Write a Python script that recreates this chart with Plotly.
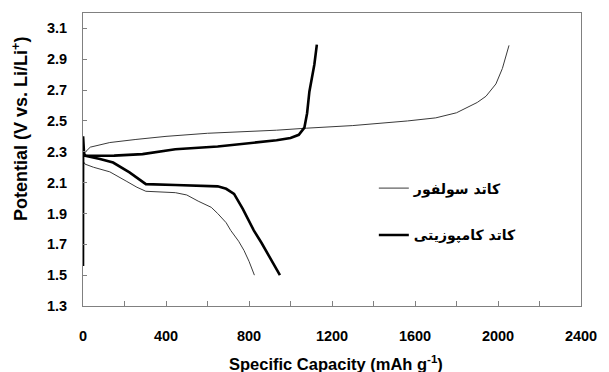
import plotly.graph_objects as go

# Sulfur cathode (thin line)
sulfur_dis_cap = [0, 10, 50, 129, 208, 260, 303, 370, 445, 500, 555, 618, 649, 690, 712, 750, 776, 800, 826]
sulfur_dis_v = [2.24, 2.22, 2.20, 2.17, 2.11, 2.07, 2.044, 2.04, 2.035, 2.02, 1.98, 1.94, 1.90, 1.84, 1.79, 1.72, 1.66, 1.59, 1.50]
sulfur_ch_cap = [0, 5, 35, 129, 255, 400, 600, 800, 933, 1076, 1300, 1564, 1700, 1800, 1900, 1942, 1990, 2021, 2040, 2053]
sulfur_ch_v = [2.26, 2.29, 2.33, 2.36, 2.38, 2.40, 2.42, 2.43, 2.44, 2.453, 2.47, 2.50, 2.52, 2.553, 2.62, 2.66, 2.74, 2.84, 2.92, 2.99]

# Composite cathode (thick line)
comp_dis_cap = [0, 11, 82, 145, 224, 303, 445, 649, 690, 728, 770, 823, 860, 886, 920, 949]
comp_dis_v = [2.28, 2.274, 2.253, 2.23, 2.166, 2.09, 2.085, 2.076, 2.06, 2.027, 1.93, 1.79, 1.71, 1.65, 1.57, 1.50]
comp_ch_cap = [0, 0.5, 5, 11, 82, 150, 287, 445, 649, 800, 933, 1000, 1040, 1067, 1080, 1091, 1105, 1115, 1127]
comp_ch_v = [1.56, 2.40, 2.29, 2.274, 2.274, 2.275, 2.285, 2.317, 2.334, 2.355, 2.375, 2.39, 2.41, 2.457, 2.55, 2.69, 2.80, 2.866, 2.995]

y_ticks = [1.3, 1.5, 1.7, 1.9, 2.1, 2.3, 2.5, 2.7, 2.9, 3.1]

label_sulfur = "کاتد سولفور"
label_comp = "کاتد کامپوزیتی"

thin_color = "#3a3a3a"
thick_color = "#000000"

fig = go.Figure()
fig.add_trace(go.Scatter(x=sulfur_ch_cap, y=sulfur_ch_v, mode="lines",
                         line=dict(color=thin_color, width=1), name=label_sulfur,
                         legend="legend", showlegend=True))
fig.add_trace(go.Scatter(x=sulfur_dis_cap, y=sulfur_dis_v, mode="lines",
                         line=dict(color=thin_color, width=1), showlegend=False))
fig.add_trace(go.Scatter(x=comp_ch_cap, y=comp_ch_v, mode="lines",
                         line=dict(color=thick_color, width=2.6), name=label_comp,
                         legend="legend2", showlegend=True))
fig.add_trace(go.Scatter(x=comp_dis_cap, y=comp_dis_v, mode="lines",
                         line=dict(color=thick_color, width=2.6), showlegend=False))

tick_font = dict(family="Liberation Sans, Arial, sans-serif", size=14.5, color="#000", weight="bold")
axis_color = "#808080"

fig.update_layout(
    width=609, height=372,
    margin=dict(l=83, r=19, t=12, b=66),
    paper_bgcolor="white", plot_bgcolor="white",
    xaxis=dict(range=[0, 2400], tick0=0, dtick=400, tickformat="d",
               ticks="inside", ticklen=5, tickcolor=axis_color,
               minor=dict(dtick=200, tick0=0, ticks="inside", ticklen=5, tickcolor=axis_color, showgrid=False),
               showline=True, linecolor=axis_color, linewidth=1, mirror=True, showgrid=False,
               zeroline=False, tickfont=tick_font, ticklabelstandoff=17),
    yaxis=dict(range=[1.3, 3.2], tickmode="array", tickvals=y_ticks,
               ticktext=[f"{v:.1f}" for v in y_ticks],
               ticks="inside", ticklen=4, tickcolor=axis_color, showline=True,
               linecolor=axis_color, linewidth=1, mirror=True, showgrid=False,
               zeroline=False, tickfont=tick_font, ticklabelstandoff=12),
    legend=dict(x=0.584, y=0.401, xanchor="left", yanchor="middle",
                bgcolor="rgba(0,0,0,0)",
                font=dict(family="DejaVu Sans, sans-serif", size=14, color="#000", weight="bold")),
    legend2=dict(x=0.584, y=0.241, xanchor="left", yanchor="middle",
                 bgcolor="rgba(0,0,0,0)",
                 font=dict(family="DejaVu Sans, sans-serif", size=14, color="#000", weight="bold")),
    annotations=[
        dict(text="Specific Capacity (mAh g<sup>-1</sup>)", xref="paper", yref="paper",
             x=0.509, y=-0.194, xanchor="center", yanchor="middle", showarrow=False,
             font=dict(family="Liberation Sans, Arial, sans-serif", size=16.5, color="#000", weight="bold")),
        dict(text="Potential (V vs. Li/Li<sup>+</sup>)", xref="paper", yref="paper",
             x=-0.126, y=0.605, xanchor="center", yanchor="middle", showarrow=False,
             textangle=-90,
             font=dict(family="Liberation Sans, Arial, sans-serif", size=18, color="#000", weight="bold")),
    ],
)

fig.write_html("out.html", config={"displayModeBar": False},
               post_script="document.body.style.margin='0';document.body.style.overflow='hidden';")
